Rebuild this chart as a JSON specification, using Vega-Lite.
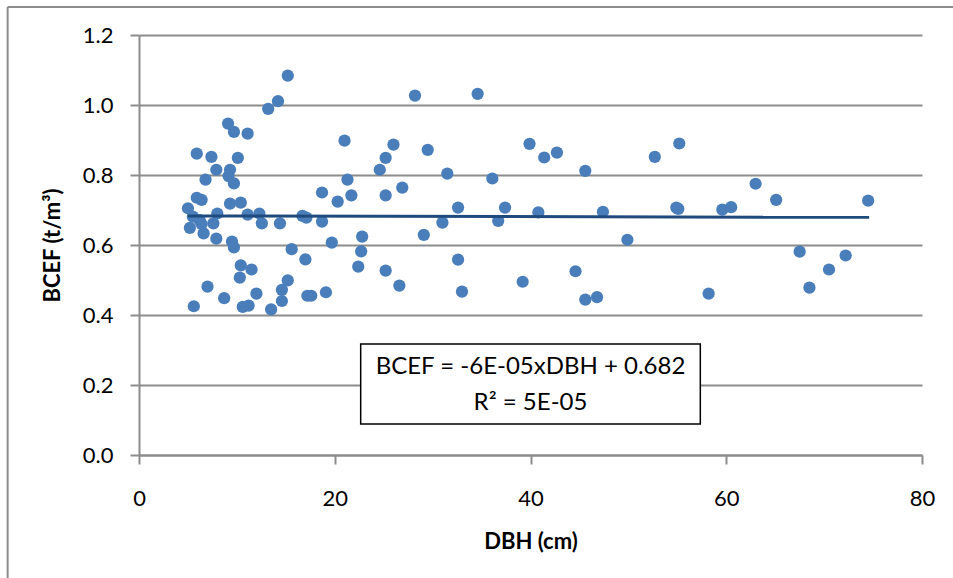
{
  "$schema": "https://vega.github.io/schema/vega-lite/v6.json",
  "width": 783,
  "height": 420,
  "autosize": {"type": "none"},
  "padding": {"left": 139, "top": 35, "right": 31, "bottom": 123},
  "background": "white",
  "config": {
    "view": {"stroke": null},
    "font": "Lato",
    "axis": {
      "labelFont": "Lato",
      "titleFont": "Lato",
      "labelFontSize": 22,
      "titleFontSize": 22,
      "titleFontWeight": "bold",
      "labelColor": "#000000",
      "titleColor": "#000000",
      "labelFlush": false,
      "labelOverlap": false,
      "domainColor": "#8c8c8c",
      "domainWidth": 2,
      "tickColor": "#8c8c8c",
      "tickWidth": 2,
      "tickSize": 9,
      "gridColor": "#8c8c8c",
      "gridWidth": 2
    }
  },
  "datasets": {
    "pts": [
      {"DBH": 15.2, "BCEF": 1.084}, {"DBH": 14.2, "BCEF": 1.011}, {"DBH": 13.2, "BCEF": 0.989},
      {"DBH": 9.1, "BCEF": 0.947}, {"DBH": 9.7, "BCEF": 0.923}, {"DBH": 11.1, "BCEF": 0.918},
      {"DBH": 5.9, "BCEF": 0.861}, {"DBH": 7.4, "BCEF": 0.852}, {"DBH": 10.1, "BCEF": 0.849},
      {"DBH": 7.9, "BCEF": 0.815}, {"DBH": 9.3, "BCEF": 0.815}, {"DBH": 6.8, "BCEF": 0.787},
      {"DBH": 9.15, "BCEF": 0.797}, {"DBH": 9.7, "BCEF": 0.776}, {"DBH": 5.9, "BCEF": 0.735},
      {"DBH": 6.4, "BCEF": 0.729}, {"DBH": 5.0, "BCEF": 0.705}, {"DBH": 9.3, "BCEF": 0.718},
      {"DBH": 10.4, "BCEF": 0.721}, {"DBH": 5.5, "BCEF": 0.681}, {"DBH": 6.2, "BCEF": 0.671},
      {"DBH": 8.0, "BCEF": 0.69}, {"DBH": 7.6, "BCEF": 0.662}, {"DBH": 5.2, "BCEF": 0.649},
      {"DBH": 6.6, "BCEF": 0.633}, {"DBH": 6.4, "BCEF": 0.66}, {"DBH": 11.1, "BCEF": 0.687},
      {"DBH": 12.3, "BCEF": 0.69}, {"DBH": 12.55, "BCEF": 0.662}, {"DBH": 14.4, "BCEF": 0.662},
      {"DBH": 16.7, "BCEF": 0.683}, {"DBH": 17.1, "BCEF": 0.678}, {"DBH": 7.9, "BCEF": 0.618},
      {"DBH": 9.5, "BCEF": 0.61}, {"DBH": 9.7, "BCEF": 0.593}, {"DBH": 15.6, "BCEF": 0.588},
      {"DBH": 17.0, "BCEF": 0.559}, {"DBH": 10.4, "BCEF": 0.542}, {"DBH": 11.5, "BCEF": 0.53},
      {"DBH": 10.3, "BCEF": 0.507}, {"DBH": 15.2, "BCEF": 0.499}, {"DBH": 14.6, "BCEF": 0.472},
      {"DBH": 7.0, "BCEF": 0.481}, {"DBH": 8.7, "BCEF": 0.448}, {"DBH": 12.0, "BCEF": 0.461},
      {"DBH": 14.6, "BCEF": 0.44}, {"DBH": 17.2, "BCEF": 0.455}, {"DBH": 5.6, "BCEF": 0.425},
      {"DBH": 10.6, "BCEF": 0.423}, {"DBH": 11.2, "BCEF": 0.427}, {"DBH": 13.5, "BCEF": 0.416},
      {"DBH": 28.2, "BCEF": 1.027}, {"DBH": 34.6, "BCEF": 1.032}, {"DBH": 21.0, "BCEF": 0.898},
      {"DBH": 26.0, "BCEF": 0.887}, {"DBH": 25.2, "BCEF": 0.849}, {"DBH": 29.5, "BCEF": 0.872},
      {"DBH": 24.6, "BCEF": 0.815}, {"DBH": 31.5, "BCEF": 0.804}, {"DBH": 36.1, "BCEF": 0.79},
      {"DBH": 21.3, "BCEF": 0.787}, {"DBH": 18.7, "BCEF": 0.75}, {"DBH": 20.3, "BCEF": 0.724},
      {"DBH": 21.7, "BCEF": 0.742}, {"DBH": 25.2, "BCEF": 0.742}, {"DBH": 26.9, "BCEF": 0.764},
      {"DBH": 32.6, "BCEF": 0.707}, {"DBH": 31.0, "BCEF": 0.664}, {"DBH": 18.7, "BCEF": 0.667},
      {"DBH": 36.7, "BCEF": 0.669}, {"DBH": 19.7, "BCEF": 0.607}, {"DBH": 22.8, "BCEF": 0.624},
      {"DBH": 22.7, "BCEF": 0.582}, {"DBH": 29.1, "BCEF": 0.629}, {"DBH": 22.4, "BCEF": 0.538},
      {"DBH": 25.2, "BCEF": 0.527}, {"DBH": 32.6, "BCEF": 0.558}, {"DBH": 26.6, "BCEF": 0.484},
      {"DBH": 17.6, "BCEF": 0.455}, {"DBH": 19.1, "BCEF": 0.465}, {"DBH": 33.0, "BCEF": 0.467},
      {"DBH": 39.9, "BCEF": 0.889}, {"DBH": 41.4, "BCEF": 0.85}, {"DBH": 42.7, "BCEF": 0.864},
      {"DBH": 45.6, "BCEF": 0.812}, {"DBH": 52.7, "BCEF": 0.852}, {"DBH": 55.2, "BCEF": 0.89},
      {"DBH": 37.4, "BCEF": 0.707}, {"DBH": 40.8, "BCEF": 0.693}, {"DBH": 47.4, "BCEF": 0.695},
      {"DBH": 54.9, "BCEF": 0.707}, {"DBH": 55.1, "BCEF": 0.703}, {"DBH": 49.9, "BCEF": 0.615},
      {"DBH": 39.2, "BCEF": 0.495}, {"DBH": 44.6, "BCEF": 0.525}, {"DBH": 45.6, "BCEF": 0.444},
      {"DBH": 46.8, "BCEF": 0.451}, {"DBH": 63.0, "BCEF": 0.775}, {"DBH": 65.1, "BCEF": 0.729},
      {"DBH": 74.5, "BCEF": 0.727}, {"DBH": 59.6, "BCEF": 0.701}, {"DBH": 60.5, "BCEF": 0.708},
      {"DBH": 67.5, "BCEF": 0.581}, {"DBH": 72.2, "BCEF": 0.57}, {"DBH": 70.5, "BCEF": 0.53},
      {"DBH": 68.5, "BCEF": 0.478}, {"DBH": 58.2, "BCEF": 0.461}
    ],
    "trend": [
      {"DBH": 5.0, "BCEF": 0.683},
      {"DBH": 74.6, "BCEF": 0.679}
    ]
  },
  "layer": [
    {
      "data": {"values": [{}]},
      "mark": {"type": "rule", "color": "#8c8c8c", "strokeWidth": 2, "clip": false},
      "encoding": {
        "x": {"datum": -13.42, "type": "quantitative", "scale": {"domain": [0, 80], "nice": false, "zero": false}},
        "y": {"datum": 1.28, "type": "quantitative", "scale": {"domain": [0, 1.2], "nice": false}},
        "y2": {"datum": -0.4}
      }
    },
    {
      "data": {"values": [{}]},
      "mark": {"type": "rule", "color": "#8c8c8c", "strokeWidth": 2, "clip": false},
      "encoding": {
        "x": {"datum": -13.42, "type": "quantitative"},
        "x2": {"datum": 84},
        "y": {"datum": 1.28, "type": "quantitative"}
      }
    },
    {
      "data": {"name": "pts"},
      "mark": {"type": "point", "filled": true, "shape": "circle", "size": 150, "color": "#4a7ebb", "opacity": 1},
      "encoding": {
        "x": {
          "field": "DBH", "type": "quantitative",
          "scale": {"domain": [0, 80], "nice": false, "zero": false},
          "axis": {"values": [0, 20, 40, 60, 80], "grid": false, "title": "DBH (cm)", "labelPadding": 24, "titlePadding": 22, "domain": true}
        },
        "y": {
          "field": "BCEF", "type": "quantitative",
          "scale": {"domain": [0, 1.2], "nice": false},
          "axis": {"values": [0, 0.2, 0.4, 0.6, 0.8, 1.0, 1.2], "format": ".1f", "grid": true, "title": "BCEF (t/m³)", "labelPadding": 17, "titlePadding": 18}
        }
      }
    },
    {
      "data": {"name": "trend"},
      "mark": {"type": "line", "color": "#1f4a7e", "strokeWidth": 3},
      "encoding": {
        "x": {"field": "DBH", "type": "quantitative"},
        "y": {"field": "BCEF", "type": "quantitative"}
      }
    },
    {
      "data": {"values": [{}]},
      "mark": {"type": "rect", "fill": "white", "stroke": "black", "strokeWidth": 1.5},
      "encoding": {
        "x": {"datum": 22.65, "type": "quantitative"},
        "x2": {"datum": 57.35},
        "y": {"datum": 0.317, "type": "quantitative"},
        "y2": {"datum": 0.0886}
      }
    },
    {
      "data": {"values": [{"label": "BCEF = -6E-05xDBH + 0.682", "DBH": 40, "BCEF": 0.2514}, {"label": "R² = 5E-05", "DBH": 40, "BCEF": 0.1486}]},
      "mark": {"type": "text", "fontSize": 24, "font": "Lato", "align": "center", "baseline": "middle", "color": "black"},
      "encoding": {
        "x": {"field": "DBH", "type": "quantitative"},
        "y": {"field": "BCEF", "type": "quantitative"},
        "text": {"field": "label"}
      }
    }
  ]
}
